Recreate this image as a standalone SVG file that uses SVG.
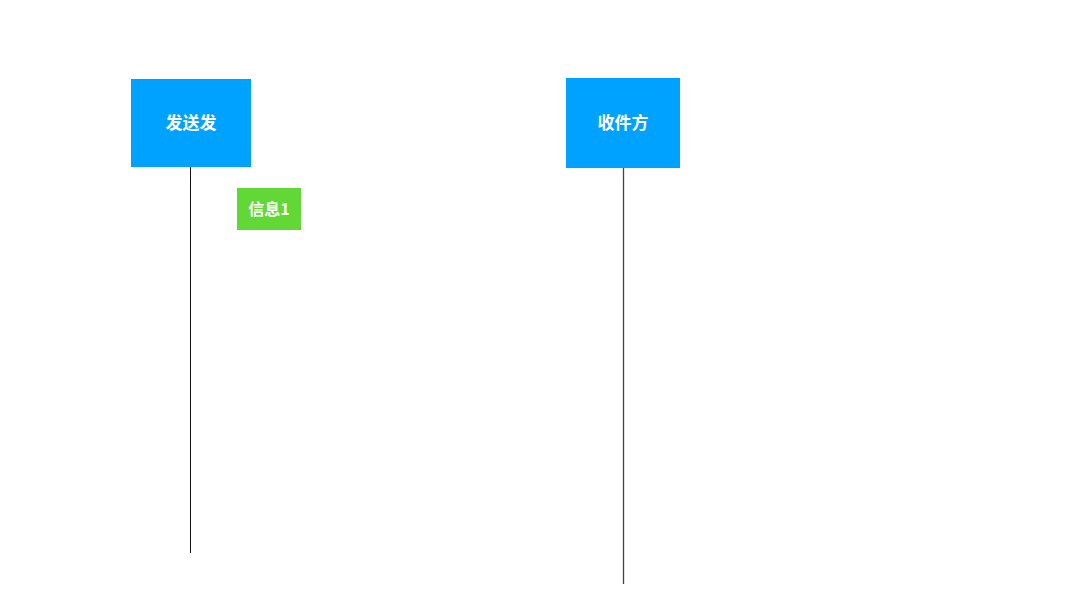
<svg xmlns="http://www.w3.org/2000/svg" width="1080" height="608" viewBox="0 0 1080 608">
<style>
.box{fill:#00A2FF}
.msg{fill:#61D836}
.t{fill:#FFFFFF;font-family:"Noto Sans CJK SC","Liberation Sans",sans-serif;font-weight:bold;text-anchor:middle;dominant-baseline:central}
.life{stroke:#111;stroke-width:1;fill:none}
</style>
<rect width="1080" height="608" fill="#FFFFFF"/>
<g id="connectors">
<line class="life" x1="190.5" y1="167" x2="190.5" y2="553"/>
<line class="life" x1="623.5" y1="168" x2="623.5" y2="584" style="stroke:#444;stroke-width:1.3"/>
</g>
<g id="sender">
<rect class="box" x="131" y="79" width="120" height="88"/>
<text class="t" x="191" y="121.5" font-size="17">发送发</text>
</g>
<g id="receiver">
<rect class="box" x="566" y="78" width="114" height="90"/>
<text class="t" x="623" y="121.5" font-size="17">收件方</text>
</g>
<g id="message1">
<rect class="msg" x="237" y="188" width="64" height="42"/>
<text class="t" x="269" y="207.5" font-size="16">信息1</text>
</g>
</svg>
